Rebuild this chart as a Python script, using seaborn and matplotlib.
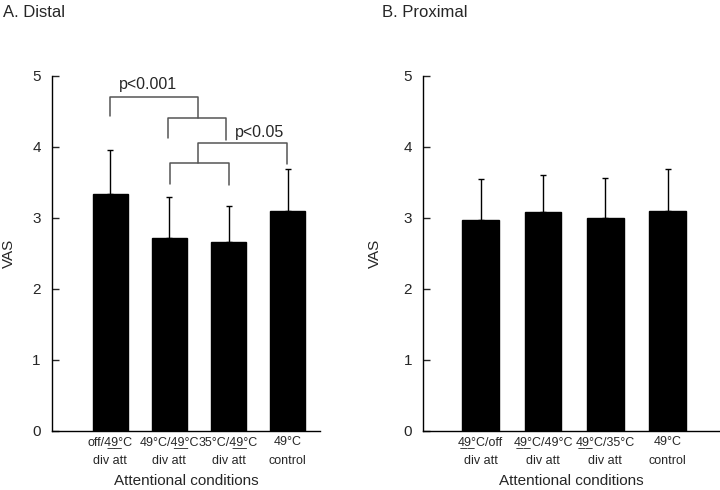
import matplotlib
matplotlib.use("Agg")
import matplotlib.pyplot as plt
import seaborn as sns

# data
U = "\u0332"
ul49 = "4" + U + "9" + U
distal_labels = ["off/" + ul49 + "°C\ndiv att", "49°C/" + ul49 + "°C\ndiv att",
                 "35°C/" + ul49 + "°C\ndiv att", "49°C\ncontrol"]
distal_means = [3.34, 2.71, 2.66, 3.10]
distal_sd = [0.62, 0.58, 0.50, 0.58]

proximal_labels = [ul49 + "°C/off\ndiv att", ul49 + "°C/49°C\ndiv att",
                   ul49 + "°C/35°C\ndiv att", "49°C\ncontrol"]
proximal_means = [2.97, 3.08, 3.00, 3.10]
proximal_sd = [0.57, 0.52, 0.56, 0.58]

sns.set_style("ticks")
plt.rcParams['font.family'] = ['Liberation Sans', 'DejaVu Sans']

fig = plt.figure(figsize=(7.2, 4.9), dpi=100)
ax1 = fig.add_axes([0.0722, 0.121, 0.372, 0.7245])
ax2 = fig.add_axes([0.588, 0.121, 0.412, 0.7245])


def draw_panel(ax, labels, means, sd, xmin, xmax):
    sns.barplot(x=labels, y=means, color="black", saturation=1, width=0.59,
                edgecolor="black", errorbar=None, ax=ax)
    ax.errorbar(range(len(means)), means, yerr=[[0] * len(sd), sd], fmt="none",
                ecolor="black", elinewidth=1, capsize=2, capthick=1)
    ax.set_ylim(0, 5)
    ax.set_xlim(xmin, xmax)
    ax.set_yticks(range(6))
    ax.tick_params(axis="y", direction="in", length=5, width=1, labelsize=11, pad=8)
    ax.tick_params(axis="x", length=0, labelsize=9, pad=4)
    for t in ax.get_xticklabels():
        t.set_linespacing(1.75)
    ax.set_ylabel("VAS", fontsize=11, labelpad=12)
    ax.set_xlabel("Attentional conditions", fontsize=11, labelpad=5)
    sns.despine(ax=ax)
    for s in ["left", "bottom"]:
        ax.spines[s].set_linewidth(1)
        ax.spines[s].set_color("black")


draw_panel(ax1, distal_labels, distal_means, distal_sd, -0.98, 3.54)
draw_panel(ax2, proximal_labels, proximal_means, proximal_sd, -0.92, 3.84)
ax2.yaxis.labelpad = 16

# significance brackets on the distal panel
bc = "#555555"
def bracket(x0, x1, ytop, yl, yr):
    ax1.plot([x0, x0, x1, x1], [yl, ytop, ytop, yr], color=bc, lw=1.1, clip_on=False)

bracket(0, 1.48, 4.70, 4.43, 4.40)
bracket(0.97, 1.96, 4.40, 4.12, 4.10)
bracket(1.49, 2.99, 4.05, 3.77, 3.76)
bracket(1.02, 2.0, 3.77, 3.48, 3.46)
ax1.text(0.64, 4.87, "p<0.001", ha="center", va="center", fontsize=11.5)
ax1.text(2.52, 4.20, "p<0.05", ha="center", va="center", fontsize=11.5)

fig.text(0.004, 0.975, "A. Distal", fontsize=12, ha="left", va="center")
fig.text(0.531, 0.975, "B. Proximal", fontsize=12, ha="left", va="center")

fig.savefig("out.png", dpi=100)
